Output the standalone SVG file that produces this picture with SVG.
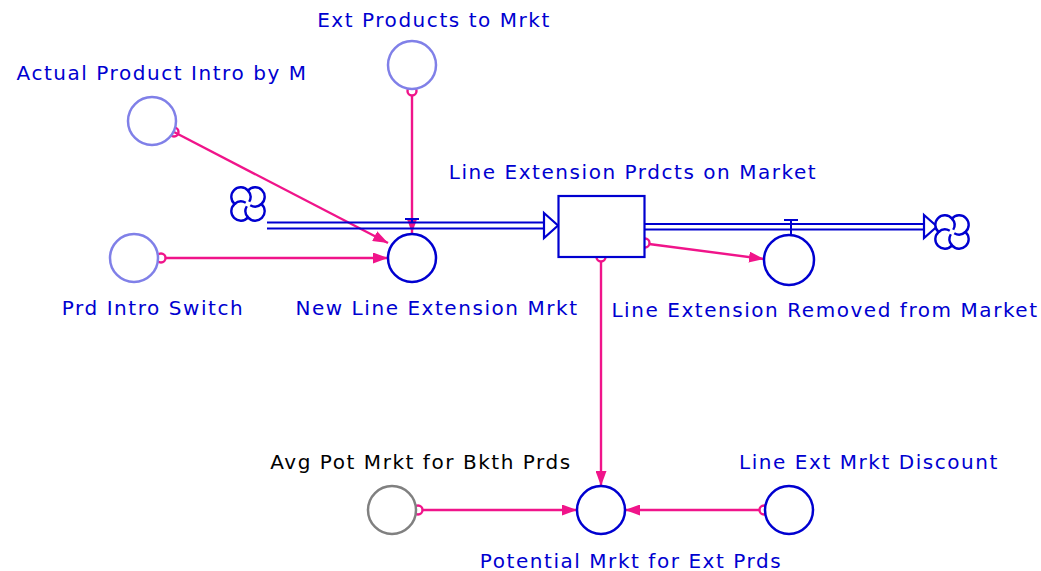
<svg xmlns="http://www.w3.org/2000/svg" width="1041" height="571" viewBox="0 0 1041 571">
<defs>
<style>
text{font-family:"DejaVu Sans",Verdana,sans-serif;font-size:20px;letter-spacing:1.55px;fill:#0000d0;text-anchor:middle}
.aux{fill:#fff;stroke:#0000d0;stroke-width:2.5}
.shadow{fill:#fff;stroke:#8080e8;stroke-width:2.5}
.gray{fill:#fff;stroke:#808080;stroke-width:2.5}
.link{stroke:#f0148a;stroke-width:2.4;fill:none}
.org{fill:none;stroke:#f0148a;stroke-width:2.4}
.pipe{stroke:#0000d0;stroke-width:2;fill:none}
.cloud{fill:#fff;stroke:#0000d0;stroke-width:2.4}
.curl{fill:none;stroke:#0000d0;stroke-width:2.4}
</style>
<marker id="ah" viewBox="0 0 15 11" refX="15" refY="5.5" markerWidth="15" markerHeight="11" markerUnits="userSpaceOnUse" orient="auto">
<path d="M0,0 L15,5.5 L0,11 z" fill="#f0148a"/>
</marker>
<g id="cloudShape">
<path class="cloud" d="M0,-13.4 A9.5,9.5 0 1 1 13.4,0 A9.5,9.5 0 1 1 0,13.4 A9.5,9.5 0 1 1 -13.4,0 A9.5,9.5 0 1 1 0,-13.4 z"/>
<path class="curl" d="M0,-13.4 A9.5,9.5 0 0 1 1.2,-2.25 M13.4,0 A9.5,9.5 0 0 1 2.25,1.2 M0,13.4 A9.5,9.5 0 0 1 -1.2,2.25 M-13.4,0 A9.5,9.5 0 0 1 -2.25,-1.2"/>
</g>
</defs>
<rect width="1041" height="571" fill="#fff"/>

<g id="connectors">
<line class="link" x1="174" y1="132" x2="388" y2="243" marker-end="url(#ah)"/>
<line class="link" x1="412" y1="95" x2="412" y2="233" marker-end="url(#ah)"/>
<line class="link" x1="166" y1="258" x2="388" y2="258" marker-end="url(#ah)"/>
<line class="link" x1="649" y1="244" x2="764" y2="259" marker-end="url(#ah)"/>
<line class="link" x1="601" y1="262" x2="601" y2="486" marker-end="url(#ah)"/>
<line class="link" x1="423" y1="510" x2="577" y2="510" marker-end="url(#ah)"/>
<line class="link" x1="759" y1="510" x2="625" y2="510" marker-end="url(#ah)"/>
<circle class="org" cx="174" cy="132" r="4.5"/>
<circle class="org" cx="412" cy="91" r="4.5"/>
<circle class="org" cx="161" cy="258" r="4.5"/>
<circle class="org" cx="645" cy="243" r="4.5"/>
<circle class="org" cx="601" cy="257" r="4.5"/>
<circle class="org" cx="418" cy="510" r="4.5"/>
<circle class="org" cx="764" cy="510" r="4.5"/>
</g>

<g id="flow-in">
<path class="pipe" d="M267,222.5 H545 M267,228.5 H545"/>
<path d="M544,213 L558,225.5 L544,238 z" fill="#fff" stroke="#0000d0" stroke-width="2.2"/>
<path class="pipe" d="M405,219 H419 M412,219 V222"/>
</g>
<g id="flow-out">
<path class="pipe" d="M645,224 H926 M645,229.5 H926"/>
<path d="M924,215 L937,226.5 L924,238 z" fill="#fff" stroke="#0000d0" stroke-width="2.2"/>
<path class="pipe" d="M784,220 H798 M791,220 V236"/>
</g>

<g id="cloud-source"><use href="#cloudShape" transform="translate(248,204)"/></g>
<g id="cloud-sink"><use href="#cloudShape" transform="translate(952,232)"/></g>

<g id="stock-line-extension">
<rect x="558.5" y="196" width="86" height="61" fill="#fff" stroke="#0000d0" stroke-width="2.2"/>
<text x="633" y="179">Line Extension Prdcts on Market</text>
</g>
<g id="new-line-extension">
<circle class="aux" cx="412" cy="258" r="24"/>
<text x="437" y="315">New Line Extension Mrkt</text>
</g>
<g id="line-extension-removed">
<circle class="aux" cx="789" cy="260" r="25"/>
<text x="825" y="317">Line Extension Removed from Market</text>
</g>
<g id="actual-product-intro">
<circle class="shadow" cx="152" cy="121" r="24"/>
<text x="162" y="80">Actual Product Intro by M</text>
</g>
<g id="ext-products">
<circle class="shadow" cx="412" cy="65" r="24"/>
<text x="434" y="27">Ext Products to Mrkt</text>
</g>
<g id="prd-intro-switch">
<circle class="shadow" cx="134" cy="258" r="24"/>
<text x="153" y="315">Prd Intro Switch</text>
</g>
<g id="avg-pot-mrkt">
<circle class="gray" cx="392" cy="510" r="24"/>
<text x="421" y="469" style="fill:#000">Avg Pot Mrkt for Bkth Prds</text>
</g>
<g id="potential-mrkt">
<circle class="aux" cx="601" cy="510" r="24"/>
<text x="631" y="568">Potential Mrkt for Ext Prds</text>
</g>
<g id="line-ext-discount">
<circle class="aux" cx="789" cy="510" r="24"/>
<text x="869" y="469">Line Ext Mrkt Discount</text>
</g>
</svg>
